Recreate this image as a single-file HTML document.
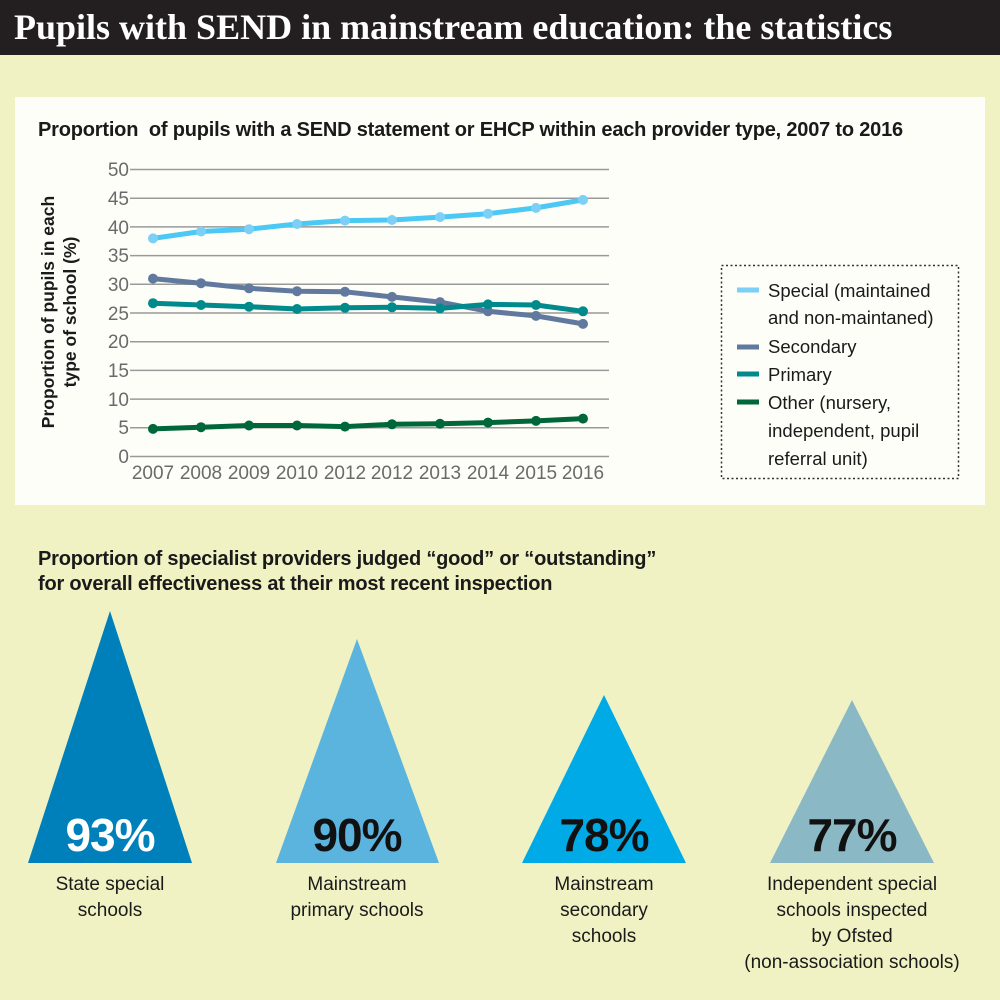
<!DOCTYPE html>
<html><head><meta charset="utf-8"><style>
body{margin:0;width:1000px;height:1000px;background:#f1f2c3;font-family:"Liberation Sans",sans-serif;position:relative;overflow:hidden}
.hdr{position:absolute;left:0;top:0;width:1000px;height:55px;background:#231f20;color:#fff;font-family:"Liberation Serif",serif;font-size:36px;font-weight:bold;line-height:55px;padding-left:14px;box-sizing:border-box;white-space:nowrap}
.panel{position:absolute;left:15px;top:97px;width:970px;height:408px;background:#fdfef7}
.t{position:absolute;color:#1a1a1a;font-weight:bold;white-space:nowrap}
.lbl{position:absolute;text-align:center;font-size:19px;color:#1a1a1a;line-height:26px}
</style></head><body>
<div class="hdr">Pupils with SEND in mainstream education: the statistics</div>
<div class="panel"></div>
<div class="t" style="left:38px;top:119px;font-size:20px;letter-spacing:-0.2px">Proportion&nbsp; of pupils with a SEND statement or EHCP within each provider type, 2007 to 2016</div>
<svg style="position:absolute;left:0;top:0" width="1000" height="1000">
<g stroke="#9a9a9a" stroke-width="1.5">
<line x1="130" x2="609" y1="169.5" y2="169.5"/><line x1="130" x2="609" y1="198.2" y2="198.2"/><line x1="130" x2="609" y1="226.9" y2="226.9"/><line x1="130" x2="609" y1="255.6" y2="255.6"/><line x1="130" x2="609" y1="284.3" y2="284.3"/><line x1="130" x2="609" y1="313" y2="313"/><line x1="130" x2="609" y1="341.7" y2="341.7"/><line x1="130" x2="609" y1="370.4" y2="370.4"/><line x1="130" x2="609" y1="399.1" y2="399.1"/><line x1="130" x2="609" y1="427.8" y2="427.8"/><line x1="130" x2="609" y1="456.5" y2="456.5"/>
</g>
<g font-size="19" fill="#6a6a6a" text-anchor="end">
<text x="129" y="176">50</text><text x="129" y="205">45</text><text x="129" y="234">40</text><text x="129" y="262">35</text><text x="129" y="291">30</text><text x="129" y="320">25</text><text x="129" y="348">20</text><text x="129" y="377">15</text><text x="129" y="406">10</text><text x="129" y="434">5</text><text x="129" y="463">0</text>
</g>
<g font-size="19" fill="#6a6a6a" text-anchor="middle">
<text x="153" y="479">2007</text><text x="201" y="479">2008</text><text x="249" y="479">2009</text><text x="297" y="479">2010</text><text x="345" y="479">2012</text><text x="392" y="479">2012</text><text x="440" y="479">2013</text><text x="488" y="479">2014</text><text x="536" y="479">2015</text><text x="583" y="479">2016</text>
</g>
<text transform="translate(54,312) rotate(-90)" font-size="17.5" font-weight="bold" fill="#1a1a1a" text-anchor="middle"><tspan x="0" y="0">Proportion of pupils in each</tspan><tspan x="0" y="22">type of school (%)</tspan></text>
<g fill="none" stroke-width="5" stroke-linejoin="round">
<polyline stroke="#4cc8f4" points="153,238.4 201,231.5 249,229.2 297,224 345,220.6 392,220 440,217.1 488,213.7 536,207.9 583,199.9"/>
<polyline stroke="#62799f" points="153,278.6 201,283.2 249,288.3 297,291.2 345,291.8 392,296.9 440,302.1 488,311.3 536,315.9 583,323.9"/>
<polyline stroke="#008a8c" points="153,303.2 201,305 249,306.7 297,309 345,307.8 392,307.3 440,308.4 488,304.4 536,305 583,311.3"/>
<polyline stroke="#00673a" points="153,428.9 201,427.2 249,425.5 297,425.5 345,426.6 392,424.3 440,423.8 488,422.6 536,420.9 583,418.6"/>
</g>
<g fill="#7ccff5"><circle cx="153" cy="238.4" r="5"/><circle cx="201" cy="231.5" r="5"/><circle cx="249" cy="229.2" r="5"/><circle cx="297" cy="224" r="5"/><circle cx="345" cy="220.6" r="5"/><circle cx="392" cy="220" r="5"/><circle cx="440" cy="217.1" r="5"/><circle cx="488" cy="213.7" r="5"/><circle cx="536" cy="207.9" r="5"/><circle cx="583" cy="199.9" r="5"/></g>
<g fill="#62799f"><circle cx="153" cy="278.6" r="5"/><circle cx="201" cy="283.2" r="5"/><circle cx="249" cy="288.3" r="5"/><circle cx="297" cy="291.2" r="5"/><circle cx="345" cy="291.8" r="5"/><circle cx="392" cy="296.9" r="5"/><circle cx="440" cy="302.1" r="5"/><circle cx="488" cy="311.3" r="5"/><circle cx="536" cy="315.9" r="5"/><circle cx="583" cy="323.9" r="5"/></g>
<g fill="#008a8c"><circle cx="153" cy="303.2" r="5"/><circle cx="201" cy="305" r="5"/><circle cx="249" cy="306.7" r="5"/><circle cx="297" cy="309" r="5"/><circle cx="345" cy="307.8" r="5"/><circle cx="392" cy="307.3" r="5"/><circle cx="440" cy="308.4" r="5"/><circle cx="488" cy="304.4" r="5"/><circle cx="536" cy="305" r="5"/><circle cx="583" cy="311.3" r="5"/></g>
<g fill="#00673a"><circle cx="153" cy="428.9" r="5"/><circle cx="201" cy="427.2" r="5"/><circle cx="249" cy="425.5" r="5"/><circle cx="297" cy="425.5" r="5"/><circle cx="345" cy="426.6" r="5"/><circle cx="392" cy="424.3" r="5"/><circle cx="440" cy="423.8" r="5"/><circle cx="488" cy="422.6" r="5"/><circle cx="536" cy="420.9" r="5"/><circle cx="583" cy="418.6" r="5"/></g>
<rect x="721.5" y="265.5" width="237" height="213" fill="none" stroke="#333" stroke-width="1.5" stroke-dasharray="2,2.5"/>
<g stroke-width="5"><line x1="737" x2="759" y1="290" y2="290" stroke="#7ccff5"/><line x1="737" x2="759" y1="347" y2="347" stroke="#62799f"/><line x1="737" x2="759" y1="374" y2="374" stroke="#008a8c"/><line x1="737" x2="759" y1="402" y2="402" stroke="#00673a"/></g>
<g fill="#1a1a1a" font-size="18.5">
<text x="768" y="297">Special (maintained</text><text x="768" y="324">and non-maintaned)</text><text x="768" y="353">Secondary</text><text x="768" y="381">Primary</text><text x="768" y="409">Other (nursery,</text><text x="768" y="437">independent, pupil</text><text x="768" y="465">referral unit)</text>
</g>
<polygon points="110,611 28,863 192,863" fill="#0080bb"/>
<polygon points="357,639 276,863 439,863" fill="#5ab4de"/>
<polygon points="604,695 522,863 686,863" fill="#00aae7"/>
<polygon points="852,700 770,863 934,863" fill="#8ab8c5"/>
<g font-size="46" font-weight="bold" text-anchor="middle" letter-spacing="-1">
<text x="110" y="851" fill="#fff">93%</text><text x="357" y="851" fill="#111">90%</text><text x="604" y="851" fill="#111">78%</text><text x="852" y="851" fill="#111">77%</text>
</g>
</svg>
<div class="t" style="left:38px;top:547px;font-size:20px;line-height:25px;letter-spacing:-0.2px">Proportion of specialist providers judged “good” or “outstanding”<br>for overall effectiveness at their most recent inspection</div>
<div class="lbl" style="left:10px;top:872px;width:200px">State special<br>schools</div>
<div class="lbl" style="left:257px;top:872px;width:200px">Mainstream<br>primary schools</div>
<div class="lbl" style="left:504px;top:872px;width:200px">Mainstream<br>secondary<br>schools</div>
<div class="lbl" style="left:732px;top:872px;width:240px">Independent special<br>schools inspected<br>by Ofsted<br>(non-association schools)</div>
</body></html>
